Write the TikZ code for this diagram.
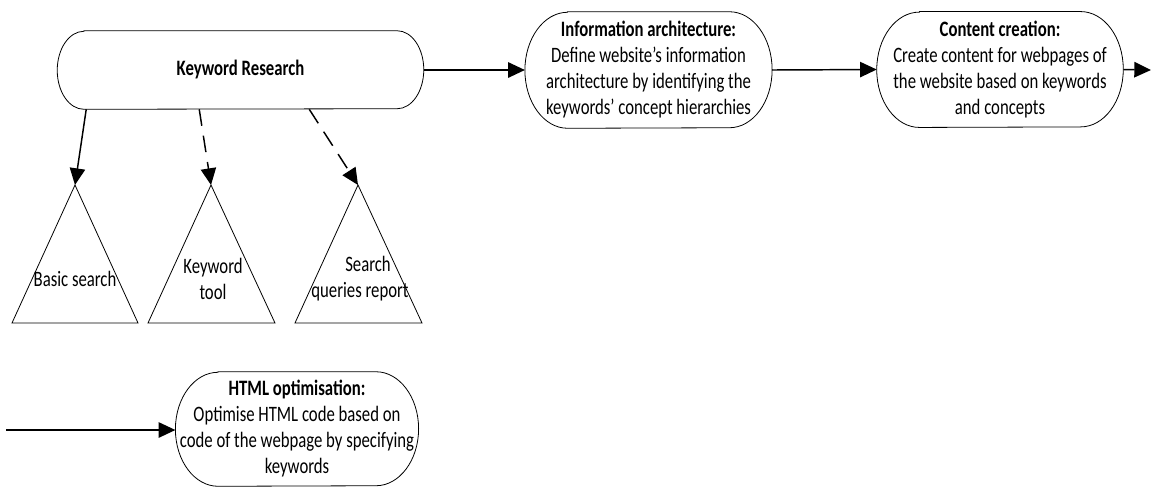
\documentclass[tikz,border=0pt]{standalone}
\usepackage{fontspec}
\setmainfont{Carlito}[FakeStretch=0.76]
\usetikzlibrary{arrows.meta,calc}
\newcommand\pillshape[3]{%
  \draw[line width=0.6pt] ([xshift=#2]#1.north west) -- ([xshift=-#2]#1.north east)
    arc[start angle=90,end angle=-90,x radius=#2,y radius=#3]
    -- ([xshift=#2]#1.south west)
    arc[start angle=270,end angle=90,x radius=#2,y radius=#3] -- cycle;}
\begin{document}
\begin{tikzpicture}[x=0.75pt,y=-0.75pt,
  every node/.style={font=\fontsize{16.5pt}{19.5pt}\selectfont, inner sep=0pt},
  pill/.style={align=center},
  flow/.style={draw, line width=1.1pt, -{Triangle[length=12.5pt,width=11.5pt]}},
  dflow/.style={flow, dash pattern=on 12.5pt off 7.5pt},
  tri/.style={draw, line width=0.6pt}]
\useasboundingbox (0,0) rectangle (1152,487);

% main pill-shaped nodes
\node[pill, minimum width=274.5pt, minimum height=58.5pt] (kw) at (240.5,70) {\textbf{Keyword Research}};
\pillshape{kw}{20pt}{29.25pt}
\node[pill, minimum width=185pt, minimum height=87pt] (ia) at (648.5,70)
  {\textbf{Information architecture:}\\Define website’s information\\architecture by identifying the\\keywords’ concept hierarchies};
\pillshape{ia}{32pt}{43.5pt}
\node[pill, minimum width=184.5pt, minimum height=86.5pt] (cc) at (1000,69.5)
  {\textbf{Content creation:}\\Create content for webpages of\\the website based on keywords\\and concepts};
\pillshape{cc}{32pt}{43.25pt}
\node[pill, minimum width=182pt, minimum height=85.5pt] (html) at (297,429)
  {\textbf{HTML optimisation:}\\Optimise HTML code based on\\code of the webpage by specifying\\keywords};
\pillshape{html}{32pt}{42.75pt}

% triangles
\coordinate (a1) at (75,185);
\coordinate (a2) at (211,185);
\coordinate (a3) at (358,185);
\draw[tri] (a1) -- (12,323) -- (138,323) -- cycle;
\draw[tri] (a2) -- (148,323) -- (275,323) -- cycle;
\draw[tri] (a3) -- (295,323) -- (422,323) -- cycle;
\node[align=center] (t1) at (75,279) {Basic search};
\node[align=center] (t2) at (213,279) {Keyword\\tool};
\node[align=center] (t3) at (360,279) {\hspace*{12pt}Search\\queries report};

% connectors
\coordinate (k1) at ($(kw.south west)+(29,0)$);
\coordinate (k2) at ($(kw.south west)+(142,0)$);
\coordinate (k3) at ($(kw.south west)+(252,0)$);
\draw[flow] (k1) -- (a1);
\draw[dflow] (k2) -- (a2);
\draw[dflow] (k3) -- (a3);

\coordinate (out) at (1151,70);
\coordinate (in) at (6,430);
\draw[flow] (kw.east) -- (ia.west);
\draw[flow] (ia.east) -- (cc.west);
\draw[flow] (cc.east) -- (out);
\draw[flow] (in) -- (html.west |- in);
\end{tikzpicture}
\end{document}
